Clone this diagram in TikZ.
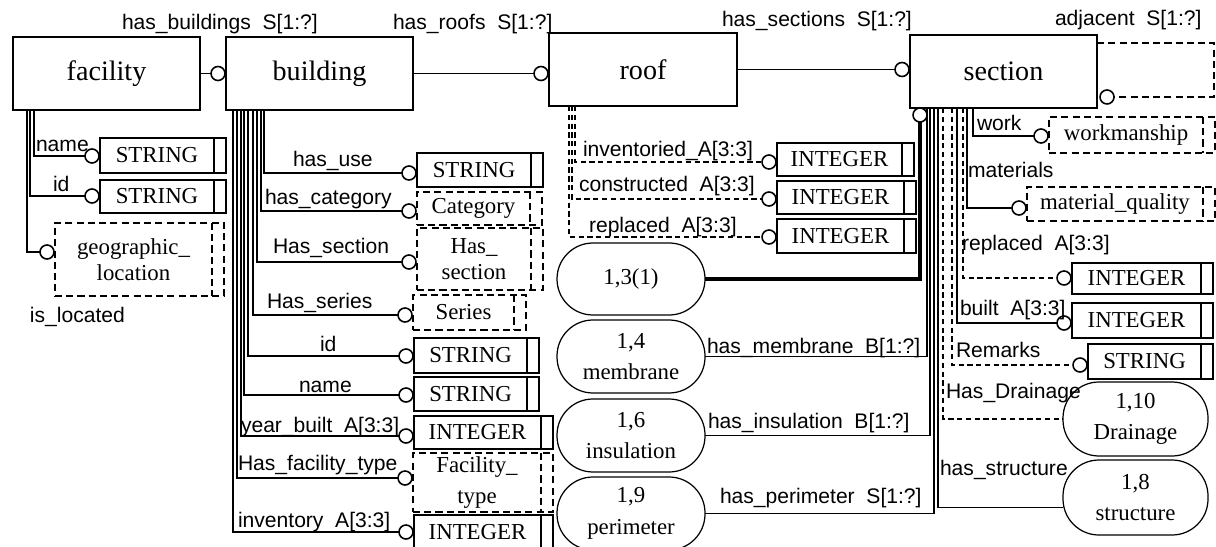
\documentclass[tikz,border=0pt]{standalone}
\usepackage{fontspec}
\setmainfont{Liberation Serif}
\newfontfamily\labfont{Liberation Sans}
\usetikzlibrary{calc}

% box given by its corners (x1,y1)-(x2,y2), in pixel-like units
\newcommand\placebox[7]{\node[#6, minimum width={(#4-#2)*0.02cm}, minimum height={(#5-#3)*0.02cm}] (#1) at ({(#2+#4)/2},{(#3+#5)/2}) {#7};}
% relationship end circle
\newcommand\relcirc[3]{\node[circ] (#1) at (#2,#3) {};}
% text kept clear of the right-hand strip of a type box
\newcommand\lefttext[1]{#1\hspace*{0.24cm}}

\tikzset{
  every node/.style={inner sep=0pt, outer sep=0pt},
  dashbox/.style={dash pattern=on 4pt off 2.4pt},
  ent/.style={draw, line width=0.8pt, font=\fontsize{16}{18}\selectfont},
  typebar/.style={path picture={\draw[line width=0.8pt,#1]
      ([xshift=-0.24cm]path picture bounding box.north east) --
      ([xshift=-0.24cm]path picture bounding box.south east);}},
  simple/.style={draw, line width=0.8pt, font=\fontsize{13}{15}\selectfont, typebar=solid},
  deftype/.style={draw, line width=0.8pt, dashbox, align=center,
      font=\fontsize{13}{15}\selectfont, typebar=dashbox},
  pageref/.style={draw, line width=0.7pt, rounded corners=0.72cm, align=center,
      font=\fontsize{13}{18}\selectfont},
  circ/.style={circle, draw, fill=white, line width=0.9pt, minimum size=0.28cm},
  lbl/.style={anchor=base west, font=\labfont\fontsize{12}{14}\selectfont},
  con/.style={line width=0.6pt},
  dcon/.style={line width=0.6pt, dash pattern=on 3pt off 2pt},
  thickcon/.style={line width=1.8pt},
}

\begin{document}
\begin{tikzpicture}[x=0.02cm, y=-0.02cm]
\useasboundingbox (0,0) rectangle (1216,547);
\clip (0,0) rectangle (1216,547);

% ---------------- entities ----------------
\placebox{facility}{13}{37}{200}{110}{ent}{facility}
\placebox{building}{226}{37}{413}{110}{ent}{building}
\placebox{roof}{549}{33}{737}{106}{ent}{roof}
\placebox{section}{910}{35}{1097}{108}{ent}{section}

\relcirc{cb}{218}{73.5}
\relcirc{cr}{541}{73.5}
\relcirc{cs}{902}{69.5}
\relcirc{cadj}{1107}{97}

\draw[con] (facility.east) -- (cb.west);
\draw[con] (building.east) -- (cr.west);
\draw[con] (roof.east) -- (cs.west);
\coordinate (adjturn) at (1214,70);
\draw[line width=0.6pt, dashbox] ($(section.north east)+(0,8)$) -| (adjturn) |- (cadj.east);

\node[lbl] (lhb) at (122,30) {has\_buildings~~S[1:?]};
\node[lbl] (lhr) at (393,30) {has\_roofs~~S[1:?]};
\node[lbl] (lhs) at (722,27) {has\_sections~~S[1:?]};
\node[lbl] (ladj) at (1055,26) {adjacent~~S[1:?]};

% ---------------- facility attributes ----------------
\placebox{tfn}{100}{138}{226}{173}{simple}{\lefttext{STRING}}
\placebox{tfi}{100}{180}{226}{213}{simple}{\lefttext{STRING}}
\placebox{tfg}{55}{223}{224}{296}{deftype}{\lefttext{geographic\_}\\\lefttext{location}}
\relcirc{cfn}{92}{156}
\relcirc{cfi}{92}{196}
\relcirc{cfg}{47}{252}
\draw[con] ($(facility.south west)+(21,0)$) |- (cfn.west);
\draw[con] ($(facility.south west)+(17,0)$) |- (cfi.west);
\draw[con] ($(facility.south west)+(14,0)$) |- (cfg.west);
\node[lbl] (lfn) at (36,152) {name};
\node[lbl] (lfi) at (53,192) {id};
\node[lbl] (lfg) at (30,322) {is\_located};

% ---------------- building attributes ----------------
\placebox{tb1}{417}{153}{543}{187}{simple}{\lefttext{STRING}}
\placebox{tb2}{417}{192}{542}{225}{deftype}{\lefttext{Category}}
\placebox{tb3}{417}{228}{543}{290}{deftype}{\lefttext{Has\_}\\\lefttext{section}}
\placebox{tb4}{413}{295}{526}{330}{deftype}{\lefttext{Series}}
\placebox{tb5}{414}{338}{539}{373}{simple}{\lefttext{STRING}}
\placebox{tb6}{414}{377}{539}{411}{simple}{\lefttext{STRING}}
\placebox{tb7}{414}{416}{553}{449}{simple}{\lefttext{INTEGER}}
\placebox{tb8}{413}{453}{553}{512}{deftype, font=\fontsize{13}{18}\selectfont}{\lefttext{Facility\_}\\\lefttext{type}}
\placebox{tb9}{414}{515}{553}{550}{simple}{\lefttext{INTEGER}}
\relcirc{cb1}{409}{173}
\relcirc{cb2}{409}{211}
\relcirc{cb3}{409}{262}
\relcirc{cb4}{405}{315}
\relcirc{cb5}{406}{356}
\relcirc{cb6}{406}{395}
\relcirc{cb7}{406}{436}
\relcirc{cb8}{405}{478}
\relcirc{cb9}{406}{532}
\draw[con] ($(building.south west)+(38,0)$) |- (cb1.west);
\draw[con] ($(building.south west)+(35,0)$) |- (cb2.west);
\draw[con] ($(building.south west)+(31,0)$) |- (cb3.west);
\draw[con] ($(building.south west)+(27,0)$) |- (cb4.west);
\draw[con] ($(building.south west)+(22,0)$) |- (cb5.west);
\draw[con] ($(building.south west)+(18,0)$) |- (cb6.west);
\draw[con] ($(building.south west)+(15,0)$) |- (cb7.west);
\draw[con] ($(building.south west)+(11,0)$) |- (cb8.west);
\draw[con] ($(building.south west)+(7,0)$) |- (cb9.west);
\node[lbl] (lb1) at (293,167) {has\_use};
\node[lbl] (lb2) at (265,205) {has\_category};
\node[lbl] (lb3) at (273,254) {Has\_section};
\node[lbl] (lb4) at (267,308) {Has\_series};
\node[lbl] (lb5) at (320,351) {id};
\node[lbl] (lb6) at (299,392) {name};
\node[lbl] (lb7) at (241,432) {year\_built~~A[3:3]};
\node[lbl] (lb8) at (238,470) {Has\_facility\_type};
\node[lbl] (lb9) at (238,527) {inventory~~A[3:3]};

% ---------------- roof attributes ----------------
\placebox{tr1}{777}{143}{914}{176}{simple}{\lefttext{INTEGER}}
\placebox{tr2}{777}{181}{916}{214}{simple}{\lefttext{INTEGER}}
\placebox{tr3}{777}{219}{916}{253}{simple}{\lefttext{INTEGER}}
\relcirc{cr1}{769}{162}
\relcirc{cr2}{769}{199}
\relcirc{cr3}{769}{237}
\draw[dcon] ($(roof.south west)+(26,0)$) |- (cr1.west);
\draw[dcon] ($(roof.south west)+(23,0)$) |- (cr2.west);
\draw[dcon] ($(roof.south west)+(20,0)$) |- (cr3.west);
\node[lbl] (lr1) at (583,157) {inventoried\_A[3:3]};
\node[lbl] (lr2) at (579,192) {constructed~~A[3:3]};
\node[lbl] (lr3) at (589,233) {replaced~~A[3:3]};

% ---------------- page references ----------------
\placebox{o13}{557}{243}{705}{315}{pageref}{1,3(1)}
\placebox{o14}{557}{320}{705}{393}{pageref}{1,4\\membrane}
\placebox{o16}{557}{399}{705}{472}{pageref}{1,6\\insulation}
\placebox{o19}{557}{477}{705}{550}{pageref}{1,9\\perimeter}
\placebox{o110}{1063}{382}{1208}{456}{pageref}{1,10\\Drainage}
\placebox{o18}{1063}{460}{1208}{535}{pageref}{1,8\\structure}

% ---------------- section attributes ----------------
\node[circ, anchor=north] (csec) at ($(section.south west)+(10,0)$) {};
\draw[thickcon] (o13.east) -| (csec.south);
\draw[con] (o14.east) -| ($(section.south west)+(17,0)$);
\draw[con] (o16.east) -| ($(section.south west)+(20,0)$);
\draw[con] (o19.east) -| ($(section.south west)+(24,0)$);
\node[lbl] (lo14) at (707,353) {has\_membrane~~B[1:?]};
\node[lbl] (lo16) at (708,428) {has\_insulation~~B[1:?]};
\node[lbl] (lo19) at (720,503) {has\_perimeter~~S[1:?]};

\placebox{ts1}{1049}{117}{1215}{153}{deftype}{\lefttext{workmanship}}
\placebox{ts2}{1027}{187}{1215}{221}{deftype}{\lefttext{material\_quality}}
\placebox{ts3}{1072}{263}{1213}{294}{simple}{\lefttext{INTEGER}}
\placebox{ts4}{1072}{303}{1213}{338}{simple}{\lefttext{INTEGER}}
\placebox{ts5}{1088}{344}{1213}{379}{simple}{\lefttext{STRING}}
\relcirc{cs1}{1041}{136}
\relcirc{cs2}{1019}{208}
\relcirc{cs3}{1064}{278}
\relcirc{cs4}{1064}{323}
\relcirc{cs5}{1080}{365}
\draw[con] ($(section.south west)+(63,0)$) |- (cs1.west);
\draw[con] ($(section.south west)+(57,0)$) |- (cs2.west);
\draw[dcon] ($(section.south west)+(53,0)$) |- (cs3.west);
\draw[con] ($(section.south west)+(47,0)$) |- (cs4.west);
\draw[dcon] ($(section.south west)+(42,0)$) |- (cs5.west);
\draw[dcon] ($(section.south west)+(33,0)$) |- (o110.west);
\draw[con] ($(section.south west)+(28,0)$) |- ($(o18.west)+(0,10)$);
\node[lbl] (ls1) at (977,131) {work};
\node[lbl] (ls2) at (968,177) {materials};
\node[lbl] (ls3) at (962,250) {replaced~~A[3:3]};
\node[lbl] (ls4) at (960,315) {built~~A[3:3]};
\node[lbl] (ls5) at (956,357) {Remarks};
\node[lbl] (ls6) at (946,398) {Has\_Drainage};
\node[lbl] (ls7) at (940,475) {has\_structure};
\end{tikzpicture}
\end{document}
